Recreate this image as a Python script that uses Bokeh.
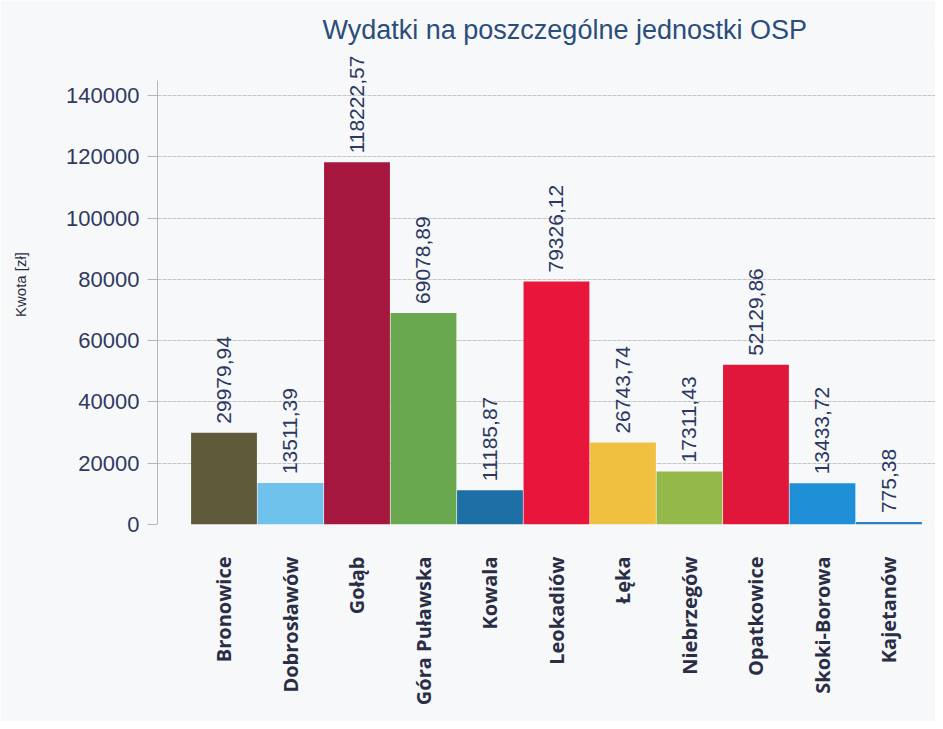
import math
from bokeh.plotting import figure
from bokeh.models import ColumnDataSource, FixedTicker, Range1d, NumeralTickFormatter
from bokeh.core.properties import value
from bokeh.embed import file_html
from bokeh.resources import INLINE

categories = ["Bronowice", "Dobrosławów", "Gołąb", "Góra Puławska", "Kowala",
              "Leokadiów", "Łęka", "Niebrzegów", "Opatkowice", "Skoki-Borowa", "Kajetanów"]
amounts = [29979.94, 13511.39, 118222.57, 69078.89, 11185.87,
           79326.12, 26743.74, 17311.43, 52129.86, 13433.72, 775.38]
colors = ["#5f5a3a", "#6ec2ec", "#a5173e", "#6aa84f", "#1d6fa5",
          "#e8163a", "#f0c040", "#94b849", "#e0163a", "#1f8fd8", "#2a7fc0"]
y_ticks = [0, 20000, 40000, 60000, 80000, 100000, 120000, 140000]

xs = list(range(len(categories)))
labels = [f"{v:.2f}".replace(".", ",") for v in amounts]
src = ColumnDataSource(dict(x=xs, top=amounts, color=colors, label=labels))

BG = "#f7f8fa"
p = figure(width=935, height=721, output_backend="svg", toolbar_location=None,
           x_range=Range1d(-1, 10.7), y_range=Range1d(0, 156700),
           background_fill_color=BG, border_fill_color=BG,
           title="Wydatki na poszczególne jednostki OSP",
           min_border_left=157, min_border_right=0, min_border_top=44, min_border_bottom=197)
p.outline_line_color = None

p.title.align = "left"
p.title.offset = 165
p.title.standoff = 0
p.title.text_font = "Liberation Sans"
p.title.text_font_style = "normal"
p.title.text_font_size = "27px"
p.title.text_color = "#2b4d7a"

p.vbar(x="x", top="top", width=0.99, bottom=0, color="color", line_color=None, source=src)
p.text(x="x", y="top", text="label", angle=math.pi / 2, text_align="left",
       text_baseline="middle", x_offset=0, y_offset=-9,
       text_font=value("Liberation Sans"), text_font_size="21px",
       text_color="#2b3860", source=src)

# y axis
ya = p.yaxis[0]
ya.ticker = FixedTicker(ticks=y_ticks)
ya.formatter = NumeralTickFormatter(format="0")
ya.bounds = (0, 145000)
ya.axis_label = "Kwota [zł]"
ya.axis_label_text_font = "Liberation Sans"
ya.axis_label_text_font_style = "normal"
ya.axis_label_text_font_size = "15px"
ya.axis_label_text_color = "#2a2e45"
ya.axis_label_standoff = 34
ya.major_label_text_font = "Liberation Sans"
ya.major_label_text_font_size = "22px"
ya.major_label_text_color = "#2f3a5e"
ya.major_label_standoff = 8
ya.axis_line_color = "#b8b8b8"
ya.major_tick_line_color = "#b8b8b8"
ya.major_tick_out = 10
ya.major_tick_in = 0
ya.minor_tick_line_color = None

# x axis
xa = p.xaxis[0]
xa.ticker = FixedTicker(ticks=xs)
xa.major_label_overrides = {i: c for i, c in zip(xs, categories)}
xa.major_label_orientation = math.pi / 2
xa.major_label_text_font = "Open Sans"
xa.major_label_text_font_style = "bold"
xa.major_label_text_font_size = "20px"
xa.major_label_text_color = "#2a2e45"
xa.major_label_standoff = 26
xa.axis_line_color = None
xa.major_tick_line_color = None
xa.minor_tick_line_color = None

p.xgrid.grid_line_color = None
p.ygrid.ticker = FixedTicker(ticks=y_ticks)
p.ygrid.grid_line_color = "#c4c4c4"
p.ygrid.grid_line_dash = "4 1"

open("out.html", "w").write(file_html(p, INLINE))
